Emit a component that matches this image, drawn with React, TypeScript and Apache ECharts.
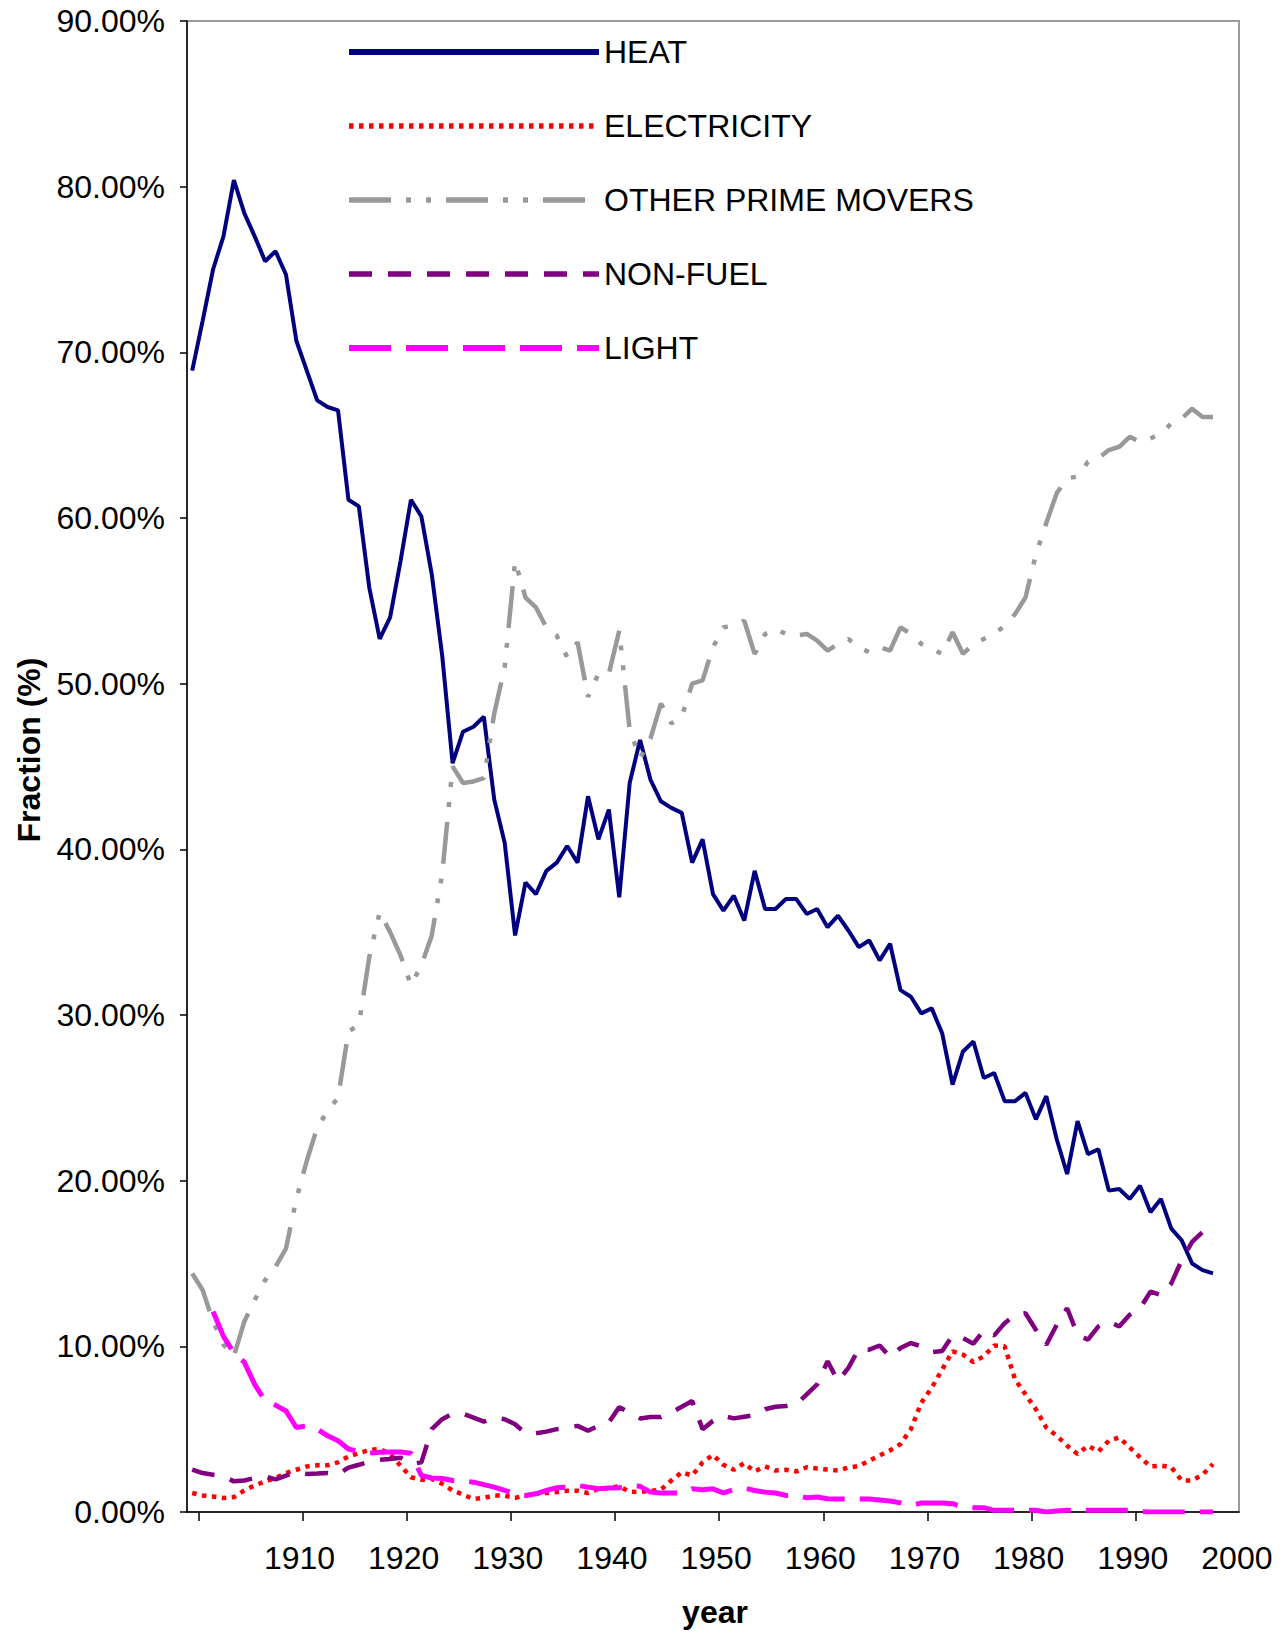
import React, { useEffect, useRef } from "react";
import * as echarts from "echarts";

const START_YEAR = 1900;

const HEAT = [
  68.9, 71.9, 75.0, 77.0, 80.4, 78.4, 77.0, 75.5, 76.1, 74.7,
  70.7, 68.9, 67.1, 66.7, 66.5, 61.1, 60.7, 55.8, 52.7, 54.0,
  57.4, 61.1, 60.1, 56.6, 51.7, 45.2, 47.1, 47.4, 48.0, 43.0,
  40.4, 34.8, 38.0, 37.3, 38.7, 39.2, 40.2, 39.2, 43.2, 40.6,
  42.4, 37.1, 44.0, 46.6, 44.2, 42.9, 42.5, 42.2, 39.2, 40.6,
  37.3, 36.3, 37.2, 35.7, 38.7, 36.4, 36.4, 37.0, 37.0, 36.1,
  36.4, 35.3, 36.0, 35.1, 34.1, 34.5, 33.3, 34.3, 31.5, 31.1,
  30.1, 30.4, 28.9, 25.8, 27.8, 28.4, 26.2, 26.5, 24.8, 24.8,
  25.3, 23.7, 25.1, 22.5, 20.4, 23.6, 21.6, 21.9, 19.4, 19.5,
  18.9, 19.7, 18.1, 18.9, 17.1, 16.4, 15.0, 14.6, 14.4,
];

const ELECTRICITY = [
  1.15, 1.0, 0.93, 0.85, 0.9, 1.3, 1.6, 1.85, 2.05, 2.35,
  2.55, 2.75, 2.82, 2.82, 3.0, 3.35, 3.55, 3.75, 3.8, 3.5,
  2.8, 2.1, 1.95, 2.0, 1.7, 1.3, 1.05, 0.78, 0.85, 1.0,
  0.98, 0.85, 1.0, 1.1, 1.15, 1.2, 1.28, 1.28, 1.15, 1.4,
  1.45, 1.55, 1.22, 1.21, 1.27, 1.35, 1.9, 2.4, 2.2, 3.0,
  3.45, 2.85, 2.55, 2.95, 2.45, 2.75, 2.5, 2.55, 2.45, 2.7,
  2.62, 2.56, 2.5, 2.68, 2.78, 3.1, 3.42, 3.72, 4.1, 5.0,
  6.6, 7.5, 8.6, 9.7, 9.5, 9.05, 9.4, 10.05, 10.0, 8.0,
  7.1, 6.2, 5.1, 4.6, 4.0, 3.5, 4.0, 3.65, 4.3, 4.5,
  3.9, 3.3, 2.75, 2.8, 2.7, 1.9, 1.9, 2.25, 2.9,
];

const OTHER_PRIME_MOVERS = [
  14.4, 13.4, 11.5, 10.1, 9.4, 11.5, 12.8, 14.0, 14.8, 15.9,
  18.9, 21.2, 23.2, 24.2, 25.0, 29.0, 29.4, 33.5, 36.2, 35.0,
  33.6, 31.8, 33.0, 34.8, 38.5, 45.0, 44.0, 44.1, 44.3, 48.2,
  51.0, 57.4, 55.2, 54.6, 53.4, 52.9, 51.6, 52.5, 49.2, 50.6,
  50.6, 53.2, 47.2, 45.5, 46.7, 48.8, 47.6, 48.0, 50.0, 50.2,
  52.2, 53.4, 53.5, 53.8, 51.8, 53.0, 53.3, 53.0, 52.9, 53.0,
  52.6, 52.0, 52.4, 52.7, 52.2, 51.9, 52.2, 52.0, 53.4, 53.0,
  52.4, 52.1, 51.8, 53.1, 51.8, 52.4, 52.7, 53.0, 53.5, 54.2,
  55.2, 57.8, 59.7, 61.5, 62.4, 62.5, 63.4, 63.6, 64.1, 64.3,
  64.9, 64.6, 64.8, 65.1, 65.7, 66.0, 66.6, 66.1, 66.1,
];

const NON_FUEL = [
  2.56, 2.35, 2.25, 2.15, 1.85, 1.9, 2.05, 2.15, 1.97, 2.2,
  2.4, 2.3, 2.32, 2.36, 2.28, 2.68, 2.85, 3.05, 3.15, 3.2,
  3.28, 2.88, 3.0, 5.0, 5.6, 5.94, 5.94, 5.7, 5.45, 5.7,
  5.6, 5.3, 4.75, 4.75, 4.85, 5.0, 5.1, 5.2, 4.9, 5.2,
  5.4, 6.33, 6.0, 5.65, 5.73, 5.73, 6.0, 6.35, 6.7, 5.0,
  5.5, 5.8, 5.65, 5.75, 5.85, 6.2, 6.35, 6.4, 6.5, 7.1,
  7.7, 9.1, 7.9, 8.7, 9.85, 9.8, 10.05, 9.35, 9.9, 10.2,
  10.0, 9.65, 9.72, 10.66, 10.5, 10.16, 10.97, 10.66, 11.4, 11.9,
  12.0, 11.0, 10.1, 11.3, 12.3, 10.7, 10.4, 11.2, 11.5, 11.2,
  11.9, 12.3, 13.3, 13.1, 13.8, 15.2, 16.3, 16.9, 16.2,
];

const LIGHT = [
  null, null, 12.1, 10.6, 9.6, 9.05, 7.7, 6.7, 6.45, 6.1,
  5.1, 5.2, 5.0, 4.6, 4.3, 3.8, 3.65, 3.55, 3.6, 3.62,
  3.62, 3.55, 2.2, 2.05, 2.02, 1.9, 1.88, 1.8, 1.65, 1.5,
  1.3, 1.1, 1.0, 1.1, 1.3, 1.47, 1.5, 1.6, 1.5, 1.41,
  1.45, 1.47, 1.6, 1.55, 1.2, 1.15, 1.15, 1.15, 1.4, 1.35,
  1.4, 1.15, 1.35, 1.45, 1.3, 1.2, 1.15, 1.0, 1.0, 0.86,
  0.9, 0.8, 0.78, 0.78, 0.78, 0.78, 0.72, 0.66, 0.55, 0.4,
  0.54, 0.54, 0.54, 0.5, 0.3, 0.26, 0.26, 0.1, 0.1, 0.1,
  0.1, 0.1, 0.0, 0.06, 0.1, 0.1, 0.1, 0.1, 0.1, 0.1,
  0.1, 0.02, 0.0, 0.0, 0.0, 0.0, 0.0, 0.0, 0.0,
];

const X_TICKS = [1900, 1910, 1920, 1930, 1940, 1950, 1960, 1970, 1980, 1990, 2000];
const X_LABELS = [1910, 1920, 1930, 1940, 1950, 1960, 1970, 1980, 1990, 2000];

const FONT = "'Liberation Sans', Arial, Helvetica, sans-serif";

function toPairs(values: (number | null)[]) {
  return values.map((v, i) => [START_YEAR + i, v]);
}

export default function App() {
  const ref = useRef<HTMLDivElement>(null);

  useEffect(() => {
    if (!ref.current) return;
    const chart = echarts.init(ref.current, null, { renderer: "svg" });

    const seriesDefs = [
      { name: "HEAT", data: HEAT, color: "#000080", width: 4, type: "solid" as any, legendWidth: 6 },
      { name: "ELECTRICITY", data: ELECTRICITY, color: "#FF0000", width: 4.5, type: [4.5, 5.5], legendWidth: 5.5 },
      { name: "OTHER PRIME MOVERS", data: OTHER_PRIME_MOVERS, color: "#999999", width: 4.5, type: [42, 15, 5, 15, 5, 15], legendWidth: 5.5 },
      { name: "NON-FUEL", data: NON_FUEL, color: "#800080", width: 4.5, type: [23, 16], legendWidth: 5.5 },
      { name: "LIGHT", data: LIGHT, color: "#FF00FF", width: 5, type: [42, 15], legendWidth: 6 },
    ];

    chart.setOption({
      animation: false,
      backgroundColor: "#ffffff",
      textStyle: { fontFamily: FONT },
      grid: {
        left: 187,
        top: 21,
        right: 49,
        bottom: 121,
        show: true,
        borderColor: "#9a9a9a",
        borderWidth: 2,
        backgroundColor: "transparent",
      },
      legend: {
        orient: "vertical",
        left: 341,
        top: 30,
        itemWidth: 250,
        itemHeight: 20,
        itemGap: 40,
        selectedMode: false,
        itemStyle: { opacity: 0 },
        textStyle: { fontSize: 32, fontFamily: FONT, color: "#000", lineHeight: 34 },
        data: seriesDefs.map((s) => ({
          name: s.name,
          lineStyle: { width: s.legendWidth, type: s.type, color: s.color },
          itemStyle: { opacity: 0 },
        })),
      },
      xAxis: {
        type: "value",
        min: 1899.5,
        max: 2000.5,
        splitLine: { show: false },
        axisLine: { show: true, onZero: false, lineStyle: { color: "#000", width: 1.5 } },
        axisTick: {
          show: true,
          length: 9,
          lineStyle: { color: "#000", width: 1.5 },
          customValues: X_TICKS.map((t) => t + 0.6),
        },
        axisLabel: {
          show: true,
          fontSize: 32,
          fontFamily: FONT,
          color: "#000",
          margin: 30,
          customValues: X_LABELS.map((t) => t + 0.3),
          formatter: (v: number) => String(Math.round(v)),
        },
      },
      yAxis: {
        type: "value",
        min: 0,
        max: 90,
        interval: 10,
        splitLine: { show: false },
        axisLine: { show: true, lineStyle: { color: "#000", width: 1.5 } },
        axisTick: { show: true, length: 7, lineStyle: { color: "#000", width: 1.5 } },
        axisLabel: {
          fontSize: 32,
          fontFamily: FONT,
          color: "#000",
          margin: 22,
          formatter: (v: number) => v.toFixed(2) + "%",
        },
      },
      series: seriesDefs.map((s) => ({
        name: s.name,
        type: "line",
        data: toPairs(s.data),
        showSymbol: false,
        symbol: "none",
        connectNulls: false,
        color: s.color,
        lineStyle: { color: s.color, width: s.width, type: s.type },
        emphasis: { disabled: true },
      })),
      graphic: [
        {
          type: "text",
          x: 29,
          y: 750,
          rotation: Math.PI / 2,
          style: {
            text: "Fraction (%)",
            fontSize: 32,
            fontWeight: "bold",
            fontFamily: FONT,
            fill: "#000",
            align: "center",
            verticalAlign: "middle",
          },
        },
        {
          type: "text",
          x: 715,
          y: 1612,
          style: {
            text: "year",
            fontSize: 32,
            fontWeight: "bold",
            fontFamily: FONT,
            fill: "#000",
            align: "center",
            verticalAlign: "middle",
          },
        },
      ],
    });

    return () => chart.dispose();
  }, []);

  return (
    <div
      ref={ref}
      style={{ position: "absolute", left: 0, top: 0, width: 1288, height: 1633 }}
    />
  );
}
